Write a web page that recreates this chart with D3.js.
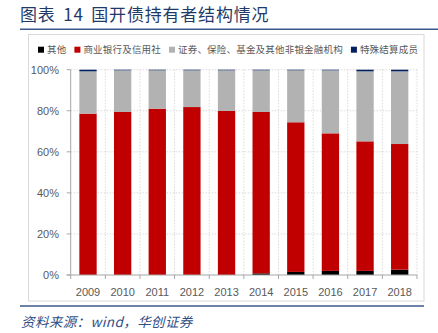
<!DOCTYPE html>
<html><head><meta charset="utf-8">
<script src="https://cdn.jsdelivr.net/npm/d3@7"></script>
<style>
html,body{margin:0;padding:0;background:#fff;}
svg{display:block;}
</style></head>
<body>
<svg id="c" width="438" height="333"></svg>
<script>
const years = ["2009","2010","2011","2012","2013","2014","2015","2016","2017","2018"];
const seriesNames = ["其他","商业银行及信用社","证券、保险、基金及其他非银金融机构","特殊结算成员"];
const seriesColors = ["#000000","#C00000","#B2B2B2","#002060"];
const other    = [0.0, 0.0, 0.0, 0.0, 0.0, 0.8, 1.5, 2.0, 2.0, 2.6];
const banks    = [78.6, 79.4, 81.0, 81.8, 79.9, 78.6, 72.9, 67.0, 63.1, 61.2];
const special  = [0.8, 0.3, 0.3, 0.3, 0.3, 0.3, 0.3, 0.3, 0.8, 0.8];
const nonbank  = years.map((_, i) => +(100 - other[i] - banks[i] - special[i]).toFixed(1));
const yTicks = [0, 20, 40, 60, 80, 100];
const titleText = "图表 14 国开债持有者结构情况";
const sourceText = "资料来源：wind，华创证券";

const svg = d3.select("#c");
const X0 = 70.7, X1 = 417, Y0 = 275, Y1 = 69.7;

// title
svg.append("text").attr("x", 20).attr("y", 21).text(titleText)
  .attr("font-family", "'Noto Sans CJK SC'").attr("font-size", 17).attr("font-weight", 400)
  .attr("letter-spacing", 0.8).attr("word-spacing", 3).attr("fill", "#1F3A68");
svg.append("line").attr("x1", 20).attr("x2", 438).attr("y1", 29.2).attr("y2", 29.2)
  .attr("stroke", "#3A5A8C").attr("stroke-width", 1.6);

// frame
svg.append("rect").attr("x", 28.5).attr("y", 34.5).attr("width", 395.5).attr("height", 266.5)
  .attr("fill", "none").attr("stroke", "#D9D9D9").attr("stroke-width", 1);

// bottom line + source
svg.append("line").attr("x1", 20).attr("x2", 424).attr("y1", 306).attr("y2", 306)
  .attr("stroke", "#3A5A8C").attr("stroke-width", 1.4);
svg.append("text").attr("x", 21).attr("y", 327).text(sourceText)
  .attr("font-family", "'Noto Sans CJK SC'").attr("font-size", 13.5).attr("font-style", "italic")
  .attr("letter-spacing", 0.4).attr("fill", "#2F4F86");

const x = d3.scaleBand().domain(years).range([X0, X1]).paddingInner(0.5).paddingOuter(0.25);
const y = d3.scaleLinear().domain([0, 100]).range([Y0, Y1]);
const step = x.step();

// grid
const g = svg.append("g");
g.selectAll("line.h").data(yTicks.filter(d => d > 0)).join("line")
  .attr("x1", X0).attr("x2", X1).attr("y1", d => y(d)).attr("y2", d => y(d))
  .attr("stroke", "#D9D9D9").attr("stroke-dasharray", "1.5,1.5");
g.selectAll("line.v").data(d3.range(1, years.length + 1)).join("line")
  .attr("x1", i => X0 + i * step).attr("x2", i => X0 + i * step)
  .attr("y1", Y1).attr("y2", Y0)
  .attr("stroke", "#D9D9D9").attr("stroke-dasharray", "1.5,1.5");

// stacked bars
const rows = years.map((yr, i) => ({year: yr, s0: other[i], s1: banks[i], s2: nonbank[i], s3: special[i]}));
const stack = d3.stack().keys(["s0","s1","s2","s3"])(rows);
svg.append("g").selectAll("g").data(stack).join("g")
  .attr("fill", (d, i) => seriesColors[i])
  .selectAll("rect").data(d => d).join("rect")
  .attr("x", d => x(d.data.year)).attr("width", x.bandwidth())
  .attr("y", d => y(d[1])).attr("height", d => Math.max(0, y(d[0]) - y(d[1])));

// axes
const axCol = "#A6A6A6";
svg.append("line").attr("x1", X0).attr("x2", X0).attr("y1", Y1).attr("y2", Y0).attr("stroke", axCol);
svg.append("line").attr("x1", X0 - 4).attr("x2", X1).attr("y1", Y0).attr("y2", Y0).attr("stroke", axCol);
svg.selectAll("line.yt").data(yTicks).join("line")
  .attr("x1", X0 - 4).attr("x2", X0).attr("y1", d => y(d)).attr("y2", d => y(d)).attr("stroke", axCol);
svg.selectAll("line.xt").data(d3.range(0, years.length + 1)).join("line")
  .attr("x1", i => X0 + i * step).attr("x2", i => X0 + i * step)
  .attr("y1", Y0).attr("y2", Y0 + 4).attr("stroke", axCol);

svg.selectAll("text.yl").data(yTicks).join("text")
  .attr("x", 59).attr("y", d => y(d) + 4).attr("text-anchor", "end")
  .attr("font-family", "'Liberation Sans', Arial").attr("font-size", 11).attr("fill", "#595959")
  .text(d => d + "%");
svg.selectAll("text.xl").data(years).join("text")
  .attr("x", d => x(d) + x.bandwidth() / 2).attr("y", 295.5).attr("text-anchor", "middle")
  .attr("font-family", "'Liberation Sans', Arial").attr("font-size", 11).attr("fill", "#595959")
  .text(d => d);

// legend
const lg = svg.append("g");
let lx = 38;
seriesNames.forEach((name, i) => {
  lg.append("rect").attr("x", lx).attr("y", 46.7).attr("width", 6).attr("height", 6).attr("fill", seriesColors[i]);
  const t = lg.append("text").attr("x", lx + 9).attr("y", 53).text(name)
    .attr("font-family", "'Noto Sans CJK SC'").attr("font-size", 9.5).attr("letter-spacing", 0.2).attr("fill", "#595959");
  lx += 9 + t.node().getComputedTextLength() + 8;
});
</script>
</body></html>
